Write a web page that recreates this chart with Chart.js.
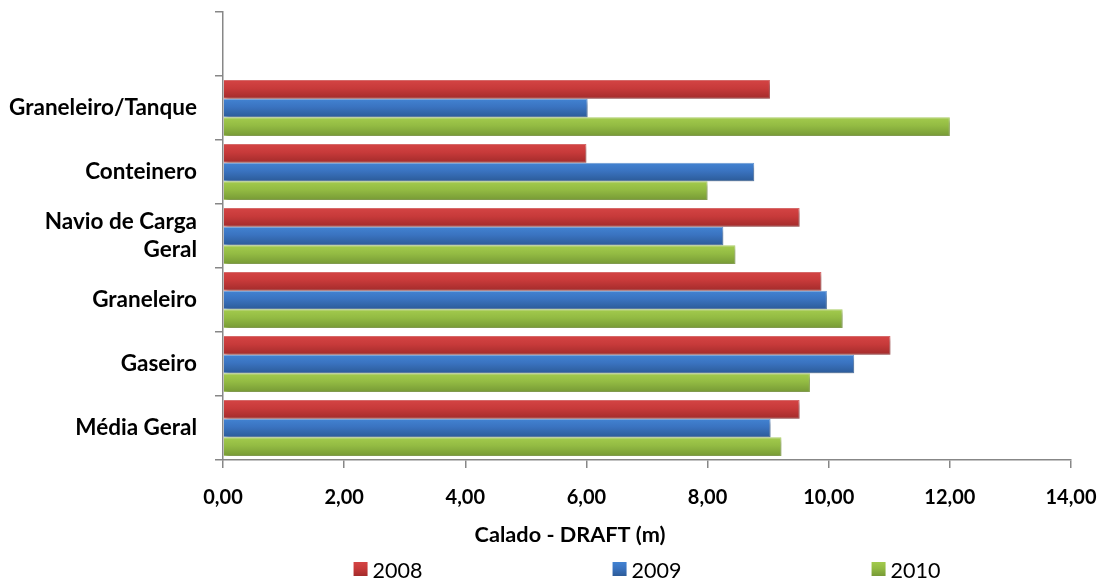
<!DOCTYPE html>
<html>
<head>
<meta charset="utf-8">
<script src="https://cdn.jsdelivr.net/npm/chart.js@4.4.1/dist/chart.umd.min.js"></script>
<style>
  html, body { margin: 0; padding: 0; background: #ffffff; }
  #wrap { width: 1101px; height: 578px; }
</style>
</head>
<body>
<div id="wrap"><canvas id="chart" width="1101" height="578"></canvas></div>
<script>
// Ship types (the first slot is left empty, as in the original layout)
const categories = ['', 'Graneleiro/Tanque', 'Conteinero', ['Navio de Carga', 'Geral'], 'Graneleiro', 'Gaseiro', 'Média Geral'];

// Draft (m) per year
const years = ['2008', '2009', '2010'];
const draft2008 = [null, 9.03, 6.00, 9.52, 9.88, 11.02, 9.52];
const draft2009 = [null, 6.02, 8.77, 8.26, 9.97, 10.42, 9.04];
const draft2010 = [null, 12.00, 8.00, 8.46, 10.23, 9.69, 9.22];

// X axis ticks
const xTickValues = [0, 2, 4, 6, 8, 10, 12, 14];
const axisTitle = 'Calado - DRAFT (m)';

// Bar styling: vertical gradient (light top, dark bottom) with a lighter rim
const barStyles = [
  { top: '#d44444', mid: '#c73a3a', bottom: '#a32b2b', rim: '#d86a6a' },
  { top: '#4283d2', mid: '#3a73c0', bottom: '#2c5b98', rim: '#6b9ad6' },
  { top: '#a3cb4d', mid: '#93bb43', bottom: '#779a36', rim: '#b0d36a' }
];

const FONT = 'Lato, "Open Sans", sans-serif';
const AXIS_GREY = '#878787';

function barGradient(ctx, y0, y1, st) {
  const g = ctx.createLinearGradient(0, y0, 0, y1);
  g.addColorStop(0, st.top);
  g.addColorStop(0.45, st.mid);
  g.addColorStop(1, st.bottom);
  return g;
}

// Applies gradients and a soft drop shadow to the bars
const barLook = {
  id: 'barLook',
  beforeDatasetsDraw(chart) {
    const ctx = chart.ctx;
    chart.data.datasets.forEach((ds, i) => {
      const meta = chart.getDatasetMeta(i);
      const st = barStyles[i];
      meta.data.forEach(el => {
        if (el.y == null || isNaN(el.y)) return;
        const h = el.height;
        const g = barGradient(ctx, el.y - h / 2, el.y + h / 2, st);
        el.options = Object.assign({}, el.options, { backgroundColor: g, borderColor: st.rim });
      });
    });
    ctx.save();
    ctx.shadowColor = 'rgba(0,0,0,0.30)';
    ctx.shadowBlur = 4;
    ctx.shadowOffsetX = 2;
    ctx.shadowOffsetY = 3;
  },
  afterDatasetsDraw(chart) {
    chart.ctx.restore();
  }
};

// Axis title and the spread-out legend under the plot
const bottomTexts = {
  id: 'bottomTexts',
  afterDraw(chart) {
    const ctx = chart.ctx;
    const area = chart.chartArea;
    ctx.save();
    ctx.fillStyle = '#000';
    ctx.textAlign = 'center';
    ctx.textBaseline = 'middle';
    ctx.font = 'bold 21.7px ' + FONT;
    ctx.fillText(axisTitle, 570, 535);

    ctx.font = '21.5px ' + FONT;
    ctx.textAlign = 'left';
    ctx.textBaseline = 'alphabetic';
    const centre = (area.left + area.right) / 2;
    const gap = 259;
    const box = 14;
    years.forEach((label, i) => {
      const tw = ctx.measureText(label).width;
      const w = box + 5 + tw;
      const cx = centre + (i - 1) * gap;
      const x0 = cx - w / 2;
      const st = barStyles[i];
      ctx.fillStyle = barGradient(ctx, 562, 562 + box, st);
      ctx.fillRect(x0, 562, box, box);
      ctx.fillStyle = '#000';
      ctx.fillText(label, x0 + box + 5, 578);
    });
    ctx.restore();
  }
};

const datasets = [draft2008, draft2009, draft2010].map((values, i) => ({
  label: years[i],
  data: values,
  backgroundColor: barStyles[i].mid,
  borderColor: barStyles[i].rim,
  borderWidth: 1,
  categoryPercentage: 0.875,
  barPercentage: 1.0
}));

new Chart(document.getElementById('chart'), {
  type: 'bar',
  data: { labels: categories, datasets },
  options: {
    indexAxis: 'y',
    responsive: false,
    animation: false,
    layout: { padding: { left: 0, right: 30, top: 12, bottom: 0 } },
    plugins: {
      legend: { display: false },
      tooltip: { enabled: false }
    },
    scales: {
      x: {
        type: 'linear',
        min: 0,
        max: 14,
        afterBuildTicks(scale) {
          scale.ticks = xTickValues.map(v => ({ value: v }));
        },
        afterFit(scale) {
          scale.height = 118;
          scale.paddingLeft = 0;
          scale.paddingRight = 0;
        },
        grid: { drawOnChartArea: false, drawTicks: true, tickLength: 8, color: AXIS_GREY, lineWidth: 1.5 },
        border: { display: true, color: AXIS_GREY, width: 1.5 },
        ticks: {
          color: '#000',
          padding: 18,
          maxRotation: 0,
          font: { family: FONT, size: 20, weight: 'bold' },
          callback: v => v.toFixed(2).replace('.', ',')
        }
      },
      y: {
        type: 'category',
        offset: true,
        afterFit(scale) {
          scale.width = 223;
          scale.paddingTop = 0;
          scale.paddingBottom = 0;
        },
        grid: { offset: true, drawOnChartArea: false, drawTicks: true, tickLength: 8, color: AXIS_GREY, lineWidth: 1.5 },
        border: { display: true, color: AXIS_GREY, width: 1.5 },
        ticks: {
          color: '#000',
          padding: 18,
          autoSkip: false,
          font: { family: FONT, size: 22.5, weight: 'bold', lineHeight: 1.25 }
        }
      }
    }
  },
  plugins: [barLook, bottomTexts]
});
</script>
</body>
</html>
